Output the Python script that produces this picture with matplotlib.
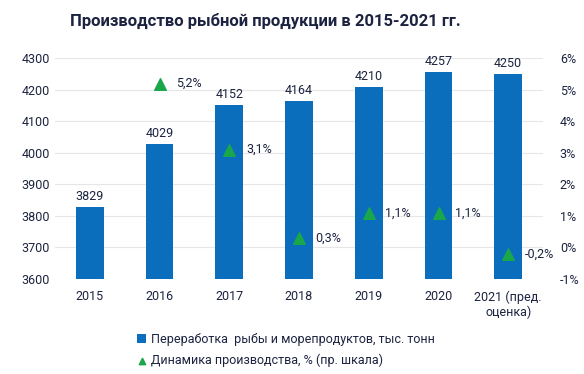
import matplotlib.pyplot as plt
import numpy as np

plt.rcParams['font.family'] = ['Roboto', 'DejaVu Sans']

# данные
years = ['2015', '2016', '2017', '2018', '2019', '2020', '2021 (пред.\nоценка)']
production = [3829, 4029, 4152, 4164, 4210, 4257, 4250]
growth_years = [1, 2, 3, 4, 5, 6]
growth = [5.2, 3.1, 0.3, 1.1, 1.1, -0.2]
growth_labels = ['5,2%', '3,1%', '0,3%', '1,1%', '1,1%', '-0,2%']

txt = '#1c2340'
blue = '#0a6ebd'
green = '#1aa64a'

fig = plt.figure(figsize=(5.84, 3.74), dpi=100)
ax = fig.add_axes([0.094, 0.254, 0.836, 0.59])
x = np.arange(len(years))

ax.bar(x, production, width=0.4, color=blue, zorder=2,
       label='Переработка  рыбы и морепродуктов, тыс. тонн')
for xi, v in zip(x, production):
    ax.text(xi, v + 12, str(v), ha='center', va='bottom', fontsize=9, color=txt)

ax.set_ylim(3600, 4300)
ax.set_yticks(np.arange(3600, 4301, 100))
ax.set_xlim(-0.5, len(years) - 0.5)
ax.set_xticks(x)
ax.set_xticklabels(years)
ax.grid(axis='y', color='#e6e6e6', linewidth=0.8, zorder=0)
for s in ax.spines.values():
    s.set_visible(False)
ax.tick_params(length=0, labelsize=9, colors=txt)
ax.tick_params(axis='x', pad=8)

ax2 = ax.twinx()
ax2.set_ylim(-1, 6)
ax2.set_yticks(np.arange(-1, 7, 1))
ax2.set_yticklabels([f'{v}%' for v in range(-1, 7)])
for s in ax2.spines.values():
    s.set_visible(False)
ax2.tick_params(length=0, labelsize=9, colors=txt, pad=12)
ax2.scatter(growth_years, growth, marker='^', s=70, color=green, zorder=3,
            label='Динамика производства, % (пр. шкала)')
for xi, v, lab in zip(growth_years, growth, growth_labels):
    ax2.text(xi + 0.24, v, lab, ha='left', va='center', fontsize=9, color=txt)

h1, l1 = ax.get_legend_handles_labels()
h2, l2 = ax2.get_legend_handles_labels()
fig.legend(h1 + h2, l1 + l2, loc='upper center', bbox_to_anchor=(0.49, 0.14),
           frameon=False, ncol=1, fontsize=9, labelcolor=txt,
           handlelength=0.7, handletextpad=0.4, labelspacing=0.6,
           markerscale=0.55)

fig.text(0.455, 0.945, 'Производство рыбной продукции в 2015-2021 гг.',
         ha='center', va='center', fontsize=12, fontweight='bold', color=txt)

fig.savefig('out.png', dpi=100)
